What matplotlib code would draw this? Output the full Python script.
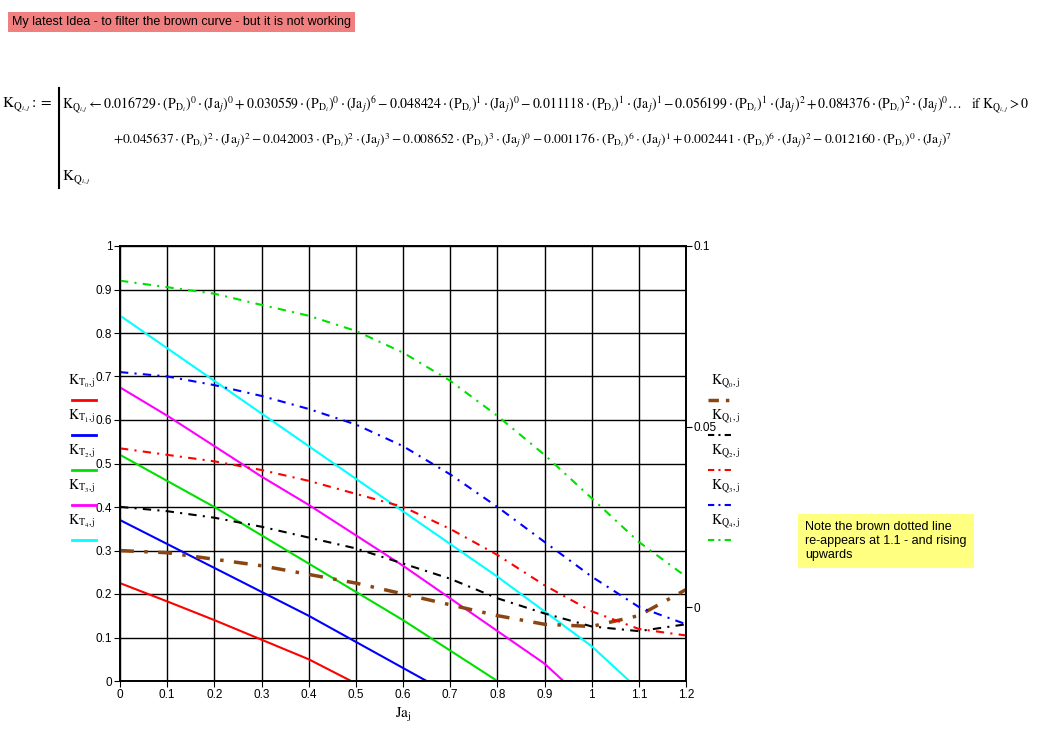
import numpy as np
import matplotlib.pyplot as plt

# Ja values (x) and thrust / torque coefficient curves
ja = [0, 0.1, 0.2, 0.3, 0.4, 0.5, 0.6, 0.7, 0.8, 0.9, 1.0, 1.1, 1.2]

kt0_x = [0, 0.1, 0.2, 0.3, 0.4, 0.49]
kt0 = [0.225, 0.183, 0.14, 0.095, 0.05, 0.0]
kt1_x = [0, 0.1, 0.2, 0.3, 0.4, 0.5, 0.6, 0.65]
kt1 = [0.37, 0.315, 0.26, 0.205, 0.15, 0.09, 0.03, 0.0]
kt2_x = [0, 0.1, 0.2, 0.3, 0.4, 0.5, 0.6, 0.7, 0.8]
kt2 = [0.52, 0.46, 0.4, 0.335, 0.27, 0.205, 0.14, 0.07, 0.0]
kt3_x = [0, 0.1, 0.2, 0.3, 0.4, 0.5, 0.6, 0.7, 0.8, 0.9, 0.94]
kt3 = [0.675, 0.61, 0.54, 0.47, 0.405, 0.335, 0.265, 0.19, 0.115, 0.04, 0.0]
kt4_x = [0, 0.1, 0.2, 0.3, 0.4, 0.5, 0.6, 0.7, 0.8, 0.9, 1.0, 1.08]
kt4 = [0.84, 0.765, 0.69, 0.615, 0.54, 0.465, 0.39, 0.315, 0.24, 0.16, 0.08, 0.0]

kq0 = [0.0157, 0.0151, 0.0133, 0.0115, 0.0091, 0.0067, 0.0037, 0.0007, -0.0023, -0.0047, -0.0053, -0.0023, 0.0049]
kq1 = [0.0278, 0.0266, 0.0248, 0.0223, 0.0193, 0.0163, 0.0121, 0.0079, 0.0025, -0.0017, -0.0053, -0.0066, -0.0047]
kq2 = [0.0440, 0.0422, 0.0404, 0.0380, 0.0350, 0.0314, 0.0278, 0.0217, 0.0145, 0.0061, -0.0011, -0.0060, -0.0078]
kq3 = [0.0651, 0.0639, 0.0615, 0.0585, 0.0549, 0.0506, 0.0446, 0.0368, 0.0278, 0.0181, 0.0085, 0.0001, -0.0047]
kq4 = [0.0904, 0.0886, 0.0868, 0.0837, 0.0807, 0.0765, 0.0705, 0.0627, 0.0530, 0.0422, 0.0302, 0.0181, 0.0085]

plt.rcParams['font.family'] = ['Liberation Serif', 'DejaVu Serif']
plt.rcParams['mathtext.fontset'] = 'stix'

fig = plt.figure(figsize=(10.59, 7.42), dpi=100)
ax = fig.add_axes([120/1059, 61/742, 566/1059, 435/742])
ax2 = ax.twinx()

kt_colors = ['red', 'blue', '#00e000', '#ff00ff', 'cyan']
for xs, ys, c in zip([kt0_x, kt1_x, kt2_x, kt3_x, kt4_x], [kt0, kt1, kt2, kt3, kt4], kt_colors):
    ax.plot(xs, ys, color=c, lw=1.5)

kq_colors = ['#8b4513', 'black', 'red', 'blue', '#00e000']
for i, (ys, c) in enumerate(zip([kq0, kq1, kq2, kq3, kq4], kq_colors)):
    lw = 2.5 if i == 0 else 1.5
    ax2.plot(ja, ys, color=c, lw=lw, ls=(0, (4, 3, 1, 3)))

ax.set_xlim(0, 1.2)
ax.set_ylim(0, 1)
ax.set_xticks(np.arange(0, 1.21, 0.1))
ax.set_xticklabels(['0', '0.1', '0.2', '0.3', '0.4', '0.5', '0.6', '0.7', '0.8', '0.9', '1', '1.1', '1.2'])
ax.set_yticks(np.arange(0, 1.01, 0.1))
ax.set_yticklabels(['0', '0.1', '0.2', '0.3', '0.4', '0.5', '0.6', '0.7', '0.8', '0.9', '1'])
ax.grid(True, color='black', lw=1)
ax2.set_ylim(-0.0204, 0.1)
ax2.set_yticks([0, 0.05, 0.1])
ax2.set_yticklabels(['0', '0.05', '0.1'])
for a in (ax, ax2):
    a.tick_params(labelsize=8.5, length=4, direction='out', pad=1.5)
    for lab in a.get_xticklabels() + a.get_yticklabels():
        lab.set_family('Liberation Sans')
    for s in a.spines.values():
        s.set_linewidth(1.2)
ax.set_xlabel(r'$\mathrm{Ja}_{\mathrm{j}}$', fontsize=11)

# left legend (KT)
for i, c in enumerate(kt_colors):
    y = 400 + i * 35
    fig.text(68/1059, 1 - (y - 28)/742, r'$\mathrm{K}_{\mathrm{T}_{%d},\mathrm{j}}$' % i, fontsize=10, va='top')
    fig.add_artist(plt.Line2D([72/1059, 96/1059], [1 - y/742] * 2, color=c, lw=2))

# right legend (KQ)
for i, c in enumerate(kq_colors):
    y = 400 + i * 35
    fig.text(711/1059, 1 - (y - 28)/742, r'$\mathrm{K}_{\mathrm{Q}_{%d},\mathrm{j}}$' % i, fontsize=10, va='top')
    fig.add_artist(plt.Line2D([708/1059, 734/1059], [1 - y/742] * 2, color=c,
                              lw=2.5 if i == 0 else 1.5, ls=(0, (3, 2, 1, 2))))

fig.text(12/1059, 1 - 22/742, 'My latest Idea - to filter the brown curve - but it is not working',
         fontsize=9, family='Liberation Sans', va='center',
         bbox=dict(facecolor='#f08080', edgecolor='none', pad=3))
fig.text(805/1059, 1 - 541/742, 'Note the brown dotted line\nre-appears at 1.1 - and rising\nupwards',
         fontsize=9, family='Liberation Sans', va='center',
         bbox=dict(facecolor='#ffff80', edgecolor='none', pad=5))

# equation
P = r'\left(\mathrm{P}_{\mathrm{D}_{i}}\right)'
J = r'\left(\mathrm{Ja}_{j}\right)'
line1 = (r'$\mathrm{K}_{\mathrm{Q}_{i,j}} \leftarrow 0.016729\cdot %s^{0}\cdot %s^{0} + 0.030559\cdot %s^{0}\cdot %s^{6}'
         r' - 0.048424\cdot %s^{1}\cdot %s^{0} - 0.011118\cdot %s^{1}\cdot %s^{1} - 0.056199\cdot %s^{1}\cdot %s^{2}'
         r' + 0.084376\cdot %s^{2}\cdot %s^{0} \ldots\quad \mathrm{if}\ \mathrm{K}_{\mathrm{Q}_{i,j}} > 0$') % ((P, J) * 6)
line2 = (r'$+0.045637\cdot %s^{2}\cdot %s^{2} - 0.042003\cdot %s^{2}\cdot %s^{3} - 0.008652\cdot %s^{3}\cdot %s^{0}'
         r' - 0.001176\cdot %s^{6}\cdot %s^{1} + 0.002441\cdot %s^{6}\cdot %s^{2} - 0.012160\cdot %s^{0}\cdot %s^{7}$') % ((P, J) * 6)
fig.text(2/1059, 1 - 105/742, r'$\mathrm{K}_{\mathrm{Q}_{i,j}} :=$', fontsize=11, va='center')
fig.text(62/1059, 1 - 105/742, line1, fontsize=9.9, va='center')
fig.text(113/1059, 1 - 140/742, line2, fontsize=9.7, va='center')
fig.text(62/1059, 1 - 178/742, r'$\mathrm{K}_{\mathrm{Q}_{i,j}}$', fontsize=11, va='center')
fig.add_artist(plt.Line2D([59/1059, 59/1059], [1 - 88/742, 1 - 188/742], color='black', lw=1.5))

fig.savefig('out.png', dpi=100)
